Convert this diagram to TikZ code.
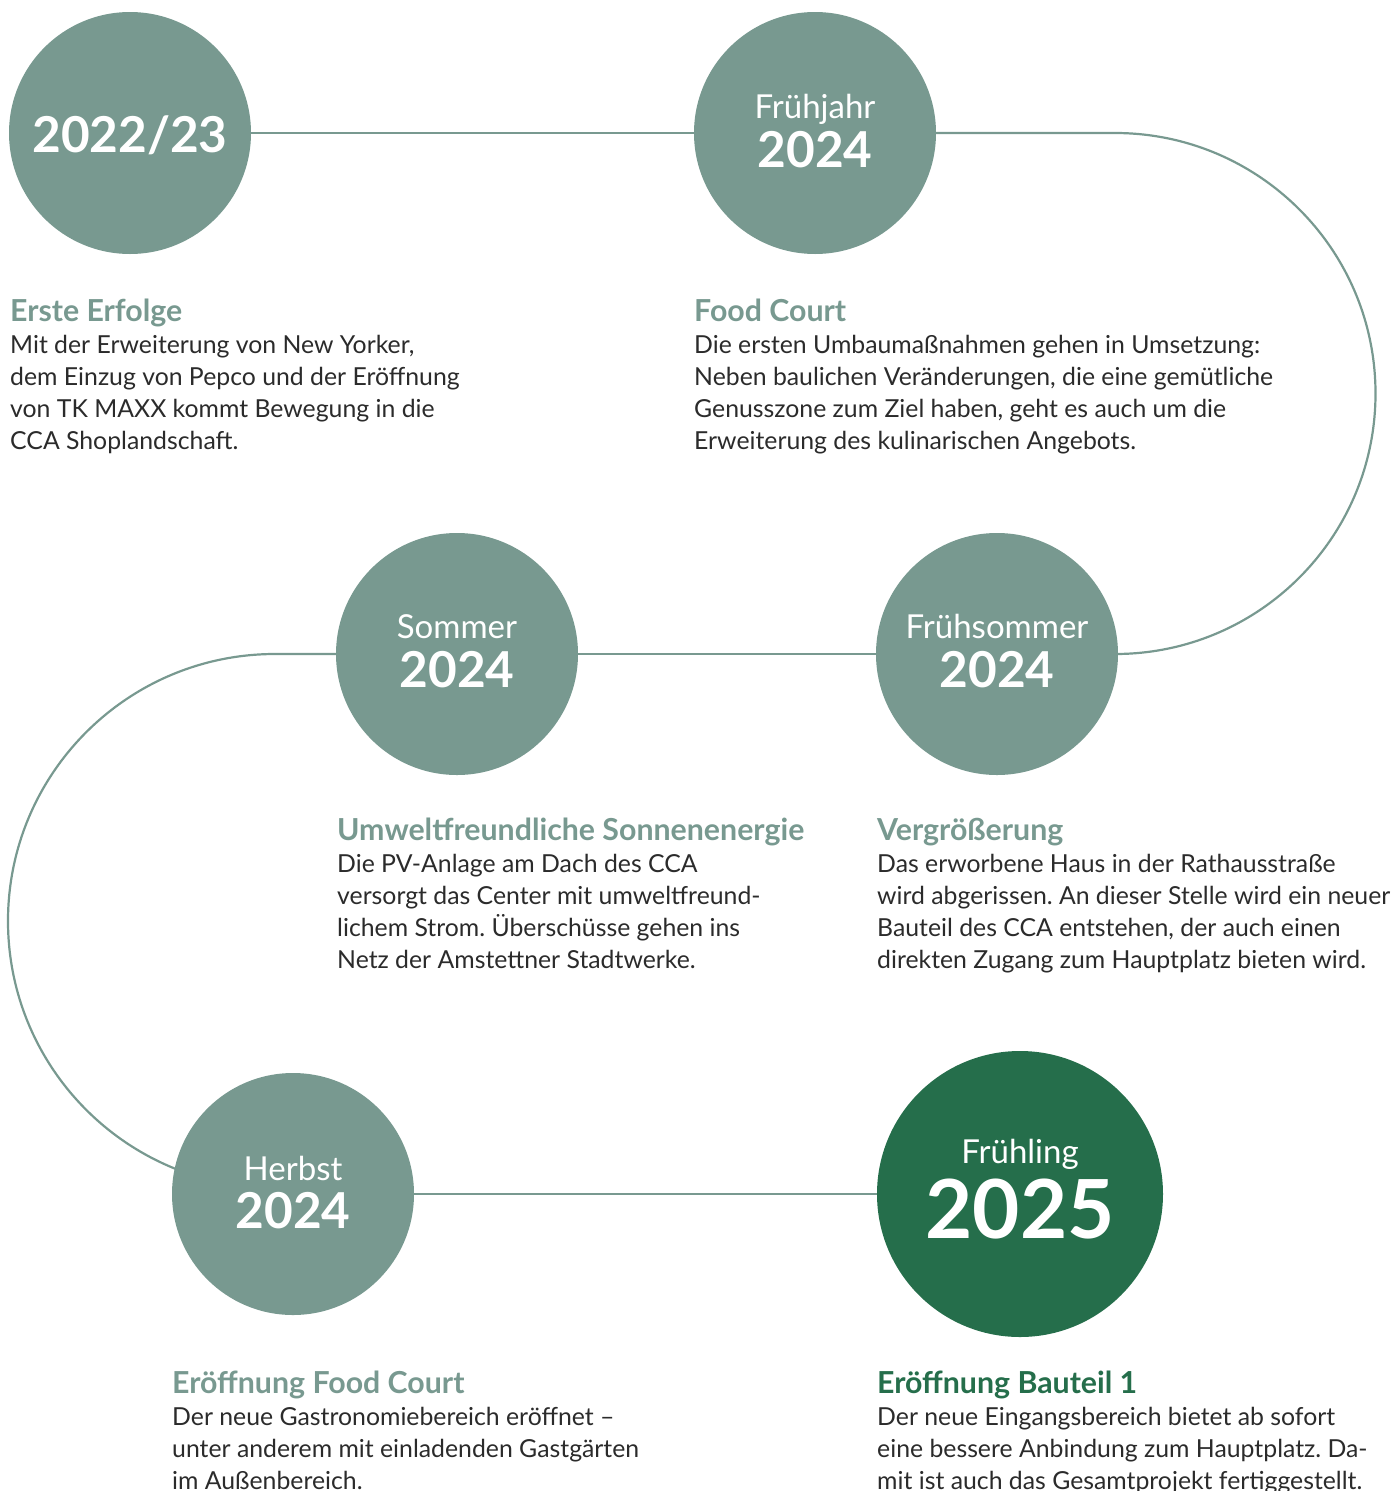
\documentclass[tikz,border=0pt]{standalone}
\usepackage{fontspec}
\setmainfont{Lato}
\usetikzlibrary{backgrounds}
\definecolor{sage}{HTML}{789990}
\definecolor{forest}{HTML}{256E4B}
\definecolor{ink}{HTML}{2B2B2B}
\newcommand{\lines}[1]{\begin{tabular}[t]{@{}l@{}}#1\end{tabular}}
\frenchspacing
\begin{document}
\begin{tikzpicture}[x=1pt,y=-1pt,
  dot/.style={circle,fill=sage,draw=none,minimum size=242pt,inner sep=0pt},
  link/.style={draw=sage,line width=2.2pt},
  season/.style={text=white,font=\fontsize{33}{33}\selectfont,anchor=base,inner sep=0pt},
  yearlbl/.style={text=white,font=\bfseries\fontsize{49.5}{50}\selectfont,anchor=base,inner sep=0pt},
  headline/.style={text=sage,font=\bfseries\fontsize{30.3}{31}\selectfont,anchor=base west,inner sep=0pt},
  body/.style={text=ink,font=\fontsize{24.8}{32}\selectfont,anchor=base west,inner sep=0pt},
]
\useasboundingbox (0,0) rectangle (1397,1491);

% circles
\node[dot] (c1) at (130,133) {};
\node[dot] (c2) at (815,133) {};
\node[dot] (c3) at (457,654) {};
\node[dot] (c4) at (997,654) {};
\node[dot] (c5) at (293,1194) {};
\node[dot,fill=forest,minimum size=286pt] (c6) at (1020,1194) {};

\coordinate (rtop) at (1115,133);
\coordinate (ltop) at (275,654);

\begin{scope}[on background layer]
\draw[link] (c1) -- (c2);
\draw[link] (c2.east) -- (rtop) arc[start angle=90,end angle=-90,radius=260.5pt] -- (c4.east);
\draw[link] (c4) -- (c3);
\draw[link] (c3.west) -- (ltop) arc[start angle=90,end angle=270,radius=267pt] -- (c5.center);
\draw[link] (c5) -- (c6);
\end{scope}

% circle labels
\node[yearlbl] (y1) at (130,152) {2022/23};
\node[season] (s2) at (815,118) {Frühjahr};
\node[yearlbl] (y2) at (815,167) {2024};
\node[season] (s3) at (457,638) {Sommer};
\node[yearlbl] (y3) at (457,687) {2024};
\node[season] (s4) at (997,638) {Frühsommer};
\node[yearlbl] (y4) at (997,687) {2024};
\node[season] (s5) at (293,1180) {Herbst};
\node[yearlbl] (y5) at (293,1228) {2024};
\node[season] (s6) at (1020,1163) {Frühling};
\node[yearlbl,font=\bfseries\fontsize{81.5}{82}\selectfont] (y6) at (1020,1238) {2025};

% texts
\node[headline] (h1) at (10,321) {Erste Erfolge};
\node[body] (b1) at (10,353) {\lines{Mit der Erweiterung von New Yorker,\\dem Einzug von Pepco und der Eröffnung\\von TK MAXX kommt Bewegung in die\\CCA Shoplandschaft.}};

\node[headline] (h2) at (694,321) {Food Court};
\node[body] (b2) at (694,353) {\lines{Die ersten Umbaumaßnahmen gehen in Umsetzung:\\Neben baulichen Veränderungen, die eine gemütliche\\Genusszone zum Ziel haben, geht es auch um die\\Erweiterung des kulinarischen Angebots.}};

\node[headline] (h3) at (337,840) {Umweltfreundliche Sonnenenergie};
\node[body] (b3) at (337,872) {\lines{Die PV-Anlage am Dach des CCA\\versorgt das Center mit umweltfreund-\\lichem Strom. Überschüsse gehen ins\\Netz der Amstettner Stadtwerke.}};

\node[headline] (h4) at (877,840) {Vergrößerung};
\node[body] (b4) at (877,872) {\lines{Das erworbene Haus in der Rathausstraße\\wird abgerissen. An dieser Stelle wird ein neuer\\Bauteil des CCA entstehen, der auch einen\\direkten Zugang zum Hauptplatz bieten wird.}};

\node[headline] (h5) at (172,1393) {Eröffnung Food Court};
\node[body] (b5) at (172,1425) {\lines{Der neue Gastronomiebereich eröffnet –\\unter anderem mit einladenden Gastgärten\\im Außenbereich.}};

\node[headline,text=forest] (h6) at (877,1393) {Eröffnung Bauteil 1};
\node[body] (b6) at (877,1425) {\lines{Der neue Eingangsbereich bietet ab sofort\\eine bessere Anbindung zum Hauptplatz. Da-\\mit ist auch das Gesamtprojekt fertiggestellt.}};
\end{tikzpicture}
\end{document}
